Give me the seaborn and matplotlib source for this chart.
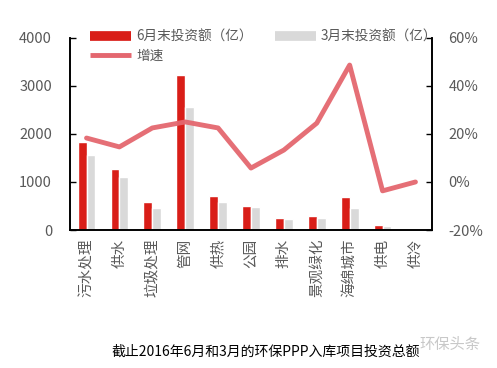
import numpy as np
import pandas as pd
import matplotlib
matplotlib.use("Agg")
import matplotlib.pyplot as plt
from matplotlib.lines import Line2D
from matplotlib.ticker import PercentFormatter
import seaborn as sns

categories = ["污水处理", "供水", "垃圾处理", "管网", "供热", "公园", "排水", "景观绿化", "海绵城市", "供电", "供冷"]
june_invest = [1840, 1270, 580, 3230, 710, 510, 250, 300, 690, 100, 10]
march_invest = [1560, 1110, 460, 2570, 590, 480, 230, 250, 460, 90, 5]
growth = [0.183, 0.146, 0.225, 0.25, 0.225, 0.058, 0.133, 0.245, 0.487, -0.037, 0.0]

series_names = ["6月末投资额（亿）", "3月末投资额（亿）"]
line_name = "增速"
caption = "截止2016年6月和3月的环保PPP入库项目投资总额"
watermark = "环保头条"

RED = "#D91E18"
GREY = "#D9D9D9"
PINK = "#E4676F"
TXT = "#595959"

sns.set_theme(style="white")
plt.rcParams["font.family"] = ["Noto Sans CJK SC", "DejaVu Sans"]
plt.rcParams["axes.unicode_minus"] = False

bars = pd.DataFrame({
    "cat": categories * 2,
    "value": june_invest + march_invest,
    "series": [series_names[0]] * len(categories) + [series_names[1]] * len(categories),
})
line_df = pd.DataFrame({"pos": np.arange(len(categories)), "growth": growth})

fig = plt.figure(figsize=(4.97, 3.68), dpi=100)
ax = fig.add_axes([0.141, 0.375, 0.728, 0.522])

sns.barplot(data=bars, x="cat", y="value", hue="series", order=categories,
            hue_order=series_names, palette=[RED, GREY], width=0.54, gap=0,
            saturation=1, legend=False, ax=ax)
ax.set_ylim(0, 4000)
ax.set_yticks([0, 1000, 2000, 3000, 4000])
ax.set_xlim(-0.5, len(categories) - 0.5)
ax.set_xlabel("")
ax.set_ylabel("")
ax.set_xticks(range(len(categories)))
ax.set_xticklabels(categories, rotation=90, fontsize=10.5, color=TXT)
ax.tick_params(axis="y", direction="in", length=4, width=1, color="black",
               labelsize=10.5, labelcolor=TXT, pad=13)
ax.tick_params(axis="x", length=0, pad=6)

ax2 = ax.twinx()
sns.lineplot(data=line_df, x="pos", y="growth", color=PINK, linewidth=3.5,
             alpha=0.95, ax=ax2)
ax2.set_ylim(-0.2, 0.6)
ax2.set_yticks([-0.2, 0, 0.2, 0.4, 0.6])
ax2.yaxis.set_major_formatter(PercentFormatter(1.0, decimals=0))
ax2.set_ylabel("")
ax2.set_xlabel("")
ax2.tick_params(axis="y", direction="in", length=4, width=1, color="black",
                labelsize=10.5, labelcolor=TXT, pad=12)

for a in (ax, ax2):
    a.spines["top"].set_visible(False)
    for s in ("left", "right", "bottom"):
        a.spines[s].set_color("black")
        a.spines[s].set_linewidth(1.2)
    a.grid(False)

handles = [
    Line2D([], [], color=RED, linewidth=7, solid_capstyle="butt"),
    Line2D([], [], color=PINK, linewidth=3.5, solid_capstyle="butt"),
    Line2D([], [], color=GREY, linewidth=7, solid_capstyle="butt"),
]
labels = [series_names[0], line_name, series_names[1]]
fig.legend(handles, labels, loc="upper left", bbox_to_anchor=(0.168, 0.937),
           ncol=2, frameon=False, fontsize=9.8, handlelength=3.0,
           handletextpad=0.4, columnspacing=1.6, labelspacing=0.35,
           borderpad=0, labelcolor=TXT)

fig.text(0.535, 0.043, caption, ha="center", va="center", fontsize=10, color="black")
fig.text(0.905, 0.065, watermark, ha="center", va="center", fontsize=11, color="#C8C8C8")

fig.savefig("out.png", dpi=100, facecolor="white")
